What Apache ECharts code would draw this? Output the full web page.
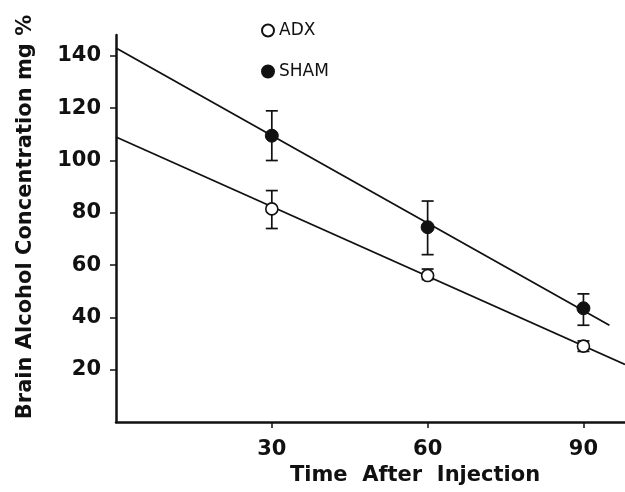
<!DOCTYPE html>
<html lang="en">
<head>
    <meta charset="UTF-8">
    <title>Brain alcohol</title>
    <style>
        html, body { margin: 0; padding: 0; background: #fff; }
    </style>
</head>
<body>
<div id="main" style="width: 625px;height:492px;"></div>
<script src="https://cdn.jsdelivr.net/npm/echarts@6/dist/echarts.min.js"></script>
<script>
    // time after injection (min)
    var times = [30, 60, 90];
    // means and error bar ends
    var adxMean = [81.5, 56, 29];
    var adxHigh = [88.5, 58.5, 31];
    var adxLow = [74, 54.5, 27];
    var shamMean = [109.5, 74.5, 43.5];
    var shamHigh = [119, 84.5, 49];
    var shamLow = [100, 64, 37];
    // fitted lines, [time, value] end points
    var adxFit = [[0, 109], [98, 22]];
    var shamFit = [[0, 143], [95, 37]];

    var font = 'DejaVu Sans';
    var ink = '#111';

    function pairs(xs, ys) {
        var out = [];
        for (var i = 0; i < xs.length; i++) out.push([xs[i], ys[i]]);
        return out;
    }
    function triples(xs, lo, hi) {
        var out = [];
        for (var i = 0; i < xs.length; i++) out.push([xs[i], lo[i], hi[i]]);
        return out;
    }

    // error bar: vertical line with caps
    function errorBar(params, api) {
        var x = api.value(0);
        var lo = api.coord([x, api.value(1)]);
        var hi = api.coord([x, api.value(2)]);
        var w = 6;
        var st = { stroke: ink, lineWidth: 1.7 };
        return {
            type: 'group',
            children: [
                { type: 'line', shape: { x1: lo[0], y1: lo[1], x2: hi[0], y2: hi[1] }, style: st },
                { type: 'line', shape: { x1: lo[0] - w, y1: lo[1], x2: lo[0] + w, y2: lo[1] }, style: st },
                { type: 'line', shape: { x1: hi[0] - w, y1: hi[1], x2: hi[0] + w, y2: hi[1] }, style: st }
            ]
        };
    }

    var myChart = echarts.init(document.getElementById('main'));

    var option = {
        backgroundColor: '#fff',
        animation: false,
        grid: { left: 116, right: 0, top: 35, bottom: 70, containLabel: false, outerBoundsMode: 'none' },
        legend: {
            data: ['ADX', 'SHAM'],
            orient: 'vertical',
            left: 256,
            top: 17,
            itemWidth: 12,
            itemHeight: 12,
            itemGap: 24,
            textStyle: { fontFamily: font, fontSize: 17, color: ink }
        },
        xAxis: {
            type: 'value',
            min: 0,
            max: 98,
            interval: 30,
            splitLine: { show: false },
            axisLine: { lineStyle: { color: ink, width: 2.5 } },
            axisTick: { length: 6, lineStyle: { color: ink, width: 1.5 } },
            axisLabel: {
                showMinLabel: false,
                showMaxLabel: false,
                margin: 17,
                fontFamily: font, fontSize: 21, fontWeight: 'bold', color: ink
            }
        },
        yAxis: {
            type: 'value',
            min: 0,
            max: 148,
            interval: 20,
            splitLine: { show: false },
            axisLine: { show: true, lineStyle: { color: ink, width: 2.5 } },
            axisTick: { show: true, length: 6, lineStyle: { color: ink, width: 1.5 } },
            axisLabel: {
                showMinLabel: false,
                showMaxLabel: false,
                margin: 15,
                fontFamily: font, fontSize: 21, fontWeight: 'bold', color: ink
            }
        },
        graphic: [
            {
                type: 'text',
                x: 26, y: 217,
                rotation: Math.PI / 2,
                style: {
                    text: 'Brain Alcohol Concentration mg %',
                    fontFamily: font, fontSize: 21, fontWeight: 'bold', fill: ink,
                    align: 'center', verticalAlign: 'middle'
                }
            },
            {
                type: 'text',
                x: 415, y: 476,
                style: {
                    text: 'Time  After  Injection',
                    fontFamily: font, fontSize: 21, fontWeight: 'bold', fill: ink,
                    align: 'center', verticalAlign: 'middle'
                }
            }
        ],
        series: [
            {
                name: 'shamFit', type: 'line', data: shamFit, symbol: 'none',
                lineStyle: { color: ink, width: 1.8 }, z: 1
            },
            {
                name: 'adxFit', type: 'line', data: adxFit, symbol: 'none',
                lineStyle: { color: ink, width: 1.8 }, z: 1
            },
            {
                name: 'shamErr', type: 'custom', renderItem: errorBar,
                data: triples(times, shamLow, shamHigh), z: 2
            },
            {
                name: 'adxErr', type: 'custom', renderItem: errorBar,
                data: triples(times, adxLow, adxHigh), z: 2
            },
            {
                name: 'ADX', type: 'scatter', symbol: 'circle', symbolSize: 12,
                data: pairs(times, adxMean), z: 3,
                itemStyle: { color: '#fff', borderColor: ink, borderWidth: 1.6, opacity: 1 }
            },
            {
                name: 'SHAM', type: 'scatter', symbol: 'circle', symbolSize: 13,
                data: pairs(times, shamMean), z: 3,
                itemStyle: { color: ink, borderColor: ink, borderWidth: 1, opacity: 1 }
            }
        ]
    };
    myChart.setOption(option);
</script>
</body>
</html>
